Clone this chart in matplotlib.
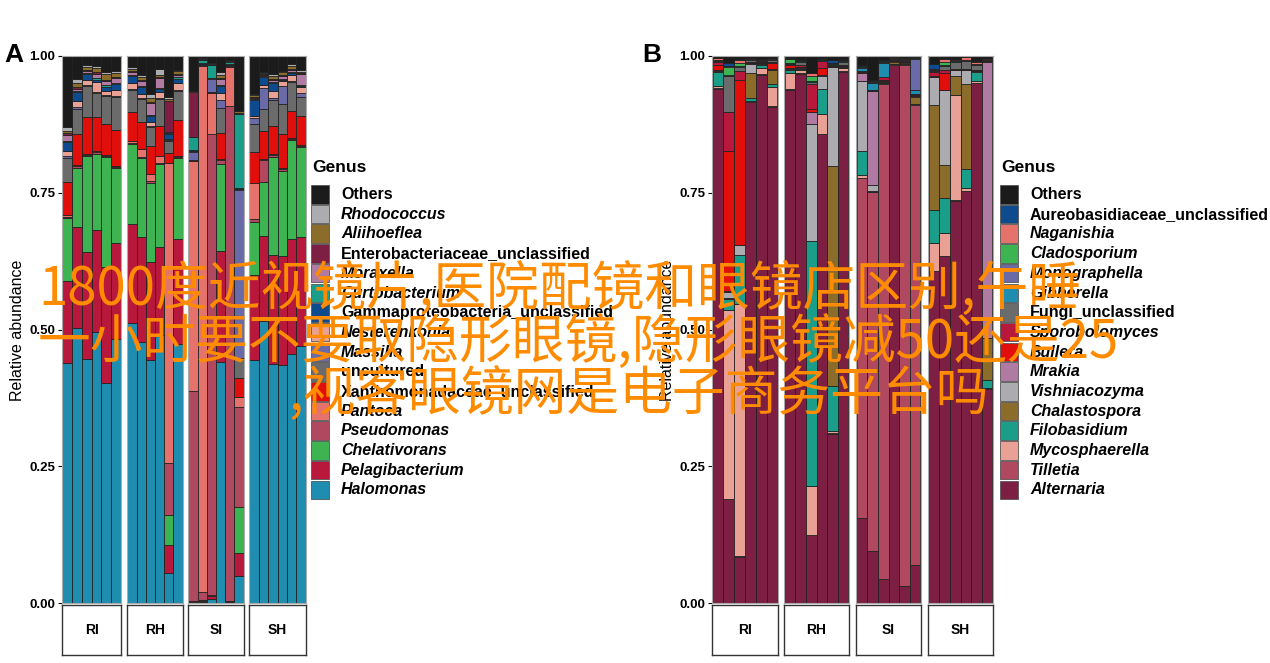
import matplotlib
matplotlib.use("Agg")
import matplotlib.pyplot as plt
import numpy as np
from matplotlib.patches import Rectangle

plt.rcParams['font.family'] = ['Liberation Sans', 'DejaVu Sans']

facets = ["RI", "RH", "SI", "SH"]
ticks = [0.0, 0.25, 0.5, 0.75, 1.0]
tick_labels = ["0.00", "0.25", "0.50", "0.75", "1.00"]

# ---- panel A (bacteria), legend order top -> bottom
A_genus = ["Others", "Rhodococcus", "Aliihoeflea", "Enterobacteriaceae_unclassified",
           "Moraxella", "Curtobacterium", "Gammaproteobacteria_unclassified",
           "Nesterenkonia", "Massilia", "uncultured", "Xanthomonadaceae_unclassified",
           "Pantoea", "Pseudomonas", "Chelativorans", "Pelagibacterium", "Halomonas"]
A_plain = ["Others", "Enterobacteriaceae_unclassified", "Gammaproteobacteria_unclassified",
           "uncultured", "Xanthomonadaceae_unclassified"]
A_colors = ['#1b1b1b', '#acabaf', '#8b6c2a', '#7d1f42', '#b07aa2', '#1a9e8a', '#0e4a8e',
            '#eaa195', '#6b6aa8', '#6b6b6b', '#e10f0b', '#e5736b', '#b0485f', '#3db451',
            '#b8183b', '#1f8db0']

A_RI = [[0.130, 0.008, 0.003, 0.003, 0.012, 0.002, 0.015, 0.010, 0.003, 0.045, 0.060, 0.003, 0.003, 0.115, 0.150, 0.438],
        [0.042, 0.007, 0.008, 0.003, 0.004, 0.002, 0.017, 0.010, 0.003, 0.047, 0.057, 0.002, 0.002, 0.109, 0.185, 0.502],
        [0.016, 0.004, 0.006, 0.002, 0.004, 0.002, 0.010, 0.010, 0.002, 0.056, 0.068, 0.002, 0.002, 0.178, 0.196, 0.450],
        [0.019, 0.003, 0.008, 0.002, 0.009, 0.002, 0.005, 0.018, 0.002, 0.043, 0.063, 0.002, 0.002, 0.140, 0.186, 0.494],
        [0.029, 0.004, 0.011, 0.002, 0.008, 0.002, 0.009, 0.007, 0.002, 0.050, 0.058, 0.002, 0.002, 0.200, 0.214, 0.403],
        [0.027, 0.004, 0.007, 0.002, 0.010, 0.002, 0.010, 0.011, 0.002, 0.061, 0.066, 0.002, 0.002, 0.137, 0.178, 0.485]]
A_RH = [[0.020, 0.003, 0.005, 0.002, 0.005, 0.002, 0.012, 0.011, 0.002, 0.040, 0.054, 0.002, 0.002, 0.147, 0.181, 0.511],
        [0.035, 0.003, 0.006, 0.002, 0.008, 0.002, 0.013, 0.008, 0.002, 0.042, 0.049, 0.015, 0.002, 0.144, 0.190, 0.477],
        [0.069, 0.007, 0.008, 0.002, 0.022, 0.002, 0.010, 0.007, 0.002, 0.036, 0.050, 0.013, 0.004, 0.144, 0.179, 0.444],
        [0.023, 0.012, 0.004, 0.002, 0.018, 0.002, 0.004, 0.011, 0.002, 0.050, 0.055, 0.012, 0.002, 0.153, 0.160, 0.490],
        [0.076, 0.003, 0.003, 0.058, 0.002, 0.002, 0.008, 0.002, 0.002, 0.023, 0.018, 0.552, 0.096, 0.056, 0.050, 0.056],
        [0.025, 0.003, 0.004, 0.002, 0.005, 0.002, 0.008, 0.013, 0.002, 0.053, 0.065, 0.002, 0.002, 0.147, 0.192, 0.471]]
A_SI = [[0.065, 0.001, 0.001, 0.082, 0.001, 0.024, 0.001, 0.001, 0.015, 0.001, 0.001, 0.425, 0.386, 0.001, 0.002, 0.001],
        [0.004, 0.001, 0.001, 0.001, 0.001, 0.005, 0.001, 0.001, 0.001, 0.001, 0.001, 0.962, 0.016, 0.001, 0.002, 0.002],
        [0.013, 0.001, 0.001, 0.001, 0.001, 0.023, 0.001, 0.001, 0.024, 0.001, 0.001, 0.076, 0.851, 0.001, 0.005, 0.008],
        [0.029, 0.006, 0.004, 0.002, 0.012, 0.002, 0.013, 0.012, 0.015, 0.044, 0.047, 0.002, 0.008, 0.157, 0.202, 0.437],
        [0.007, 0.001, 0.001, 0.001, 0.001, 0.004, 0.001, 0.001, 0.001, 0.001, 0.001, 0.071, 0.905, 0.001, 0.001, 0.002],
        [0.100, 0.001, 0.003, 0.001, 0.001, 0.135, 0.002, 0.001, 0.307, 0.036, 0.035, 0.018, 0.183, 0.084, 0.041, 0.050]]
A_SH = [[0.069, 0.002, 0.004, 0.002, 0.002, 0.002, 0.028, 0.005, 0.011, 0.050, 0.057, 0.066, 0.006, 0.096, 0.156, 0.444],
        [0.029, 0.002, 0.002, 0.002, 0.002, 0.002, 0.014, 0.006, 0.038, 0.040, 0.052, 0.002, 0.040, 0.100, 0.156, 0.517],
        [0.032, 0.004, 0.005, 0.002, 0.004, 0.002, 0.014, 0.013, 0.003, 0.047, 0.052, 0.002, 0.002, 0.178, 0.198, 0.432],
        [0.027, 0.002, 0.005, 0.002, 0.006, 0.002, 0.002, 0.009, 0.032, 0.054, 0.061, 0.002, 0.004, 0.153, 0.197, 0.429],
        [0.014, 0.004, 0.005, 0.002, 0.004, 0.002, 0.004, 0.011, 0.002, 0.052, 0.050, 0.002, 0.002, 0.180, 0.210, 0.453],
        [0.026, 0.003, 0.002, 0.002, 0.019, 0.002, 0.002, 0.011, 0.007, 0.035, 0.052, 0.002, 0.002, 0.162, 0.198, 0.465]]

# ---- panel B (fungi)
B_genus = ["Others", "Aureobasidiaceae_unclassified", "Naganishia", "Cladosporium",
           "Monographella", "Gibberella", "Fungi_unclassified", "Sporobolomyces", "Bullera",
           "Mrakia", "Vishniacozyma", "Chalastospora", "Filobasidium", "Mycosphaerella",
           "Tilletia", "Alternaria"]
B_plain = ["Others", "Aureobasidiaceae_unclassified", "Fungi_unclassified"]
B_colors = ['#1b1b1b', '#0e4a8e', '#e5736b', '#3db451', '#6b6aa8', '#1f8db0', '#6b6b6b',
            '#b8183b', '#e10f0b', '#b07aa2', '#acabaf', '#8b6c2a', '#1a9e8a', '#eaa195',
            '#b0485f', '#7d1f42']

B_RI = [[0.003, 0.001, 0.003, 0.001, 0.001, 0.001, 0.001, 0.005, 0.010, 0.001, 0.001, 0.001, 0.027, 0.003, 0.002, 0.947],
        [0.013, 0.005, 0.003, 0.014, 0.001, 0.001, 0.065, 0.072, 0.256, 0.001, 0.012, 0.001, 0.020, 0.346, 0.001, 0.190],
        [0.006, 0.002, 0.005, 0.005, 0.001, 0.001, 0.008, 0.016, 0.298, 0.001, 0.017, 0.001, 0.088, 0.457, 0.001, 0.084],
        [0.003, 0.001, 0.001, 0.001, 0.001, 0.001, 0.003, 0.001, 0.001, 0.001, 0.017, 0.046, 0.006, 0.001, 0.001, 0.922],
        [0.005, 0.001, 0.001, 0.001, 0.001, 0.001, 0.001, 0.001, 0.001, 0.001, 0.001, 0.001, 0.006, 0.012, 0.001, 0.972],
        [0.003, 0.001, 0.001, 0.001, 0.001, 0.001, 0.003, 0.001, 0.012, 0.001, 0.001, 0.026, 0.004, 0.036, 0.001, 0.910]]
B_RH = [[0.004, 0.001, 0.001, 0.006, 0.001, 0.001, 0.001, 0.001, 0.006, 0.001, 0.001, 0.001, 0.006, 0.030, 0.001, 0.940],
        [0.006, 0.001, 0.001, 0.001, 0.001, 0.001, 0.006, 0.003, 0.001, 0.001, 0.001, 0.001, 0.002, 0.006, 0.001, 0.975],
        [0.030, 0.001, 0.005, 0.009, 0.001, 0.001, 0.004, 0.046, 0.004, 0.022, 0.213, 0.001, 0.444, 0.089, 0.001, 0.123],
        [0.004, 0.001, 0.001, 0.001, 0.001, 0.001, 0.001, 0.012, 0.013, 0.001, 0.024, 0.001, 0.045, 0.036, 0.001, 0.857],
        [0.008, 0.004, 0.001, 0.001, 0.001, 0.001, 0.002, 0.001, 0.001, 0.001, 0.180, 0.405, 0.082, 0.004, 0.001, 0.310],
        [0.006, 0.001, 0.001, 0.001, 0.001, 0.001, 0.006, 0.001, 0.001, 0.001, 0.001, 0.001, 0.001, 0.005, 0.001, 0.982]]
B_SI = [[0.017, 0.001, 0.001, 0.001, 0.001, 0.006, 0.001, 0.001, 0.001, 0.016, 0.126, 0.001, 0.042, 0.007, 0.616, 0.154],
        [0.045, 0.001, 0.001, 0.001, 0.001, 0.013, 0.001, 0.001, 0.001, 0.173, 0.010, 0.001, 0.001, 0.001, 0.659, 0.096],
        [0.008, 0.001, 0.001, 0.001, 0.001, 0.026, 0.001, 0.006, 0.001, 0.001, 0.001, 0.001, 0.001, 0.001, 0.910, 0.044],
        [0.001, 0.001, 0.001, 0.001, 0.001, 0.001, 0.001, 0.001, 0.001, 0.001, 0.001, 0.003, 0.001, 0.001, 0.001, 0.995],
        [0.003, 0.001, 0.001, 0.001, 0.001, 0.001, 0.001, 0.001, 0.001, 0.001, 0.001, 0.001, 0.001, 0.001, 0.963, 0.032],
        [0.002, 0.001, 0.001, 0.001, 0.057, 0.008, 0.001, 0.001, 0.001, 0.001, 0.001, 0.013, 0.001, 0.001, 0.850, 0.070]]
B_SH = [[0.014, 0.010, 0.001, 0.001, 0.001, 0.001, 0.001, 0.008, 0.001, 0.001, 0.050, 0.192, 0.060, 0.050, 0.001, 0.604],
        [0.003, 0.003, 0.004, 0.006, 0.001, 0.001, 0.008, 0.005, 0.030, 0.001, 0.135, 0.058, 0.064, 0.041, 0.001, 0.624],
        [0.005, 0.001, 0.002, 0.001, 0.001, 0.001, 0.012, 0.001, 0.001, 0.001, 0.010, 0.035, 0.001, 0.193, 0.001, 0.740],
        [0.001, 0.001, 0.005, 0.001, 0.001, 0.001, 0.013, 0.001, 0.001, 0.001, 0.025, 0.156, 0.034, 0.005, 0.001, 0.752],
        [0.010, 0.001, 0.003, 0.001, 0.001, 0.001, 0.008, 0.001, 0.001, 0.001, 0.001, 0.001, 0.015, 0.004, 0.001, 0.950],
        [0.003, 0.001, 0.001, 0.001, 0.001, 0.001, 0.001, 0.001, 0.001, 0.508, 0.001, 0.076, 0.015, 0.001, 0.001, 0.394]]

W, H = 1270, 663
fig = plt.figure(figsize=(W / 100, H / 100), dpi=100)


def px_axes(x0, y0, x1, y1):
    return fig.add_axes([x0 / W, 1 - y1 / H, (x1 - x0) / W, (y1 - y0) / H])


def draw_panel(cols, data, colors, top=56, bottom=603):
    for k, (x0, x1) in enumerate(cols):
        ax = px_axes(x0, top, x1, bottom)
        vals = np.array(data[k], dtype=float)
        vals = vals / vals.sum(axis=1, keepdims=True)
        xs = np.arange(1, vals.shape[0] + 1)
        cum = np.zeros(vals.shape[0])
        for j in reversed(range(vals.shape[1])):
            ax.bar(xs, vals[:, j], bottom=cum, width=1.0, color=colors[j],
                   edgecolor='#222222', linewidth=0.6)
            cum += vals[:, j]
        ax.set_xlim(0.45, vals.shape[0] + 0.55)
        ax.set_ylim(0, 1)
        ax.set_xticks([])
        for s in ax.spines.values():
            s.set_color('#aaaaaa')
            s.set_linewidth(0.8)
        if k == 0:
            ax.set_yticks(ticks)
            ax.set_yticklabels(tick_labels, fontsize=9.5, fontweight='bold')
            ax.tick_params(axis='y', length=3, width=0.8, pad=2)
        else:
            ax.set_yticks([])
        st = px_axes(x0, 605, x1, 655)
        st.set_xticks([])
        st.set_yticks([])
        for s in st.spines.values():
            s.set_color('#333333')
            s.set_linewidth(1.0)
        st.text(0.5, 0.5, facets[k], ha='center', va='center', fontsize=10,
                fontweight='bold', transform=st.transAxes)


A_cols = [(62, 121), (127, 183), (188, 244), (249, 306)]
B_cols = [(712, 778), (784, 849), (856, 921), (928, 993)]
draw_panel(A_cols, [A_RI, A_RH, A_SI, A_SH], A_colors)
draw_panel(B_cols, [B_RI, B_RH, B_SI, B_SH], B_colors)

ov = fig.add_axes([0, 0, 1, 1], zorder=10)
ov.set_xlim(0, W)
ov.set_ylim(H, 0)
ov.axis('off')
ov.patch.set_alpha(0)

# panel letters and y labels
ov.text(4, 55, "A", fontsize=19, fontweight='bold', va='center', ha='left')
ov.text(642, 55, "B", fontsize=19, fontweight='bold', va='center', ha='left')
ov.text(18, 330, "Relative abundance", rotation=90, fontsize=11.5, va='center', ha='center')
ov.text(668, 330, "Relative abundance", rotation=90, fontsize=11.5, va='center', ha='center')


def legend(x, names, colors, plain):
    ov.text(x + 1, 167, "Genus", fontsize=12.5, fontweight='bold', va='center', ha='left')
    for i, (nm, c) in enumerate(zip(names, colors)):
        y = 185 + i * 19.7
        ov.add_patch(Rectangle((x, y), 18, 18.5, facecolor=c, edgecolor='#555555', linewidth=0.6))
        ov.text(x + 30, y + 9.5, nm, fontsize=11.5, fontweight='bold', va='center', ha='left',
                style='normal' if nm in plain else 'italic')


legend(311, A_genus, A_colors, A_plain)
legend(1000, B_genus, B_colors, B_plain)

# overlaid caption text
cjk = ['Noto Sans CJK SC', 'DejaVu Sans']
orange = '#ff8c00'
ov.text(38, 290, "1800度近视镜片,医院配镜和眼镜店区别,午睡", fontsize=38, color=orange,
        family=cjk, va='center', ha='left')
ov.text(38, 343, "一小时要不要取隐形眼镜,隐形眼镜减50还是25", fontsize=38, color=orange,
        family=cjk, va='center', ha='left')
ov.text(288, 395, ",视客眼镜网是电子商务平台吗", fontsize=38, color=orange,
        family=cjk, va='center', ha='left')

fig.savefig("out.png", dpi=100)
